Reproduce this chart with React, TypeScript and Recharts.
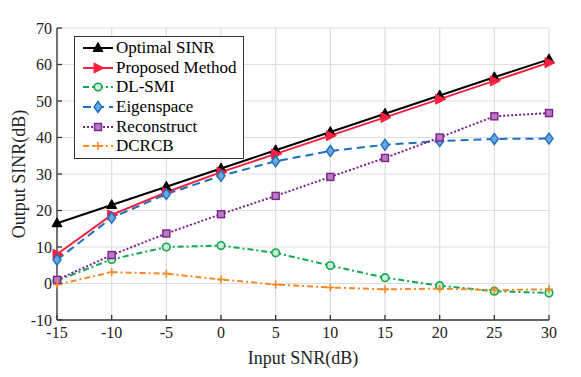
import { LineChart, Line, XAxis, YAxis, CartesianGrid } from 'recharts';

const snr = [-15, -10, -5, 0, 5, 10, 15, 20, 25, 30];
const optimal = [16.5, 21.5, 26.5, 31.5, 36.5, 41.5, 46.5, 51.5, 56.5, 61.4];
const proposed = [8, 18.8, 25, 30.5, 35.5, 40.5, 45.5, 50.5, 55.5, 60.5];
const dlsmi = [0.8, 6.6, 10, 10.4, 8.4, 4.9, 1.6, -0.6, -2.1, -2.6];
const eigen = [6.5, 18, 24.5, 29.5, 33.5, 36.3, 38, 39, 39.6, 39.7];
const recon = [1, 7.8, 13.7, 19, 24, 29.2, 34.4, 40, 45.8, 46.7];
const dcrcb = [-0.3, 3.1, 2.7, 1.1, -0.3, -1.1, -1.6, -1.4, -1.8, -1.6];
const xTicks = [-15, -10, -5, 0, 5, 10, 15, 20, 25, 30];
const yTicks = [-10, 0, 10, 20, 30, 40, 50, 60, 70];

const data = snr.map((x, i) => ({
  x,
  optimal: optimal[i],
  proposed: proposed[i],
  dlsmi: dlsmi[i],
  eigen: eigen[i],
  recon: recon[i],
  dcrcb: dcrcb[i],
}));

const FONT = '"Liberation Serif", "Times New Roman", serif';

type Mk = 'tri' | 'right' | 'circle' | 'diamond' | 'square' | 'plus';

function marker(kind: Mk, color: string, cx: number, cy: number, key?: any) {
  switch (kind) {
    case 'tri':
      return <polygon key={key} points={`${cx},${cy - 5.5} ${cx - 5},${cy + 3.5} ${cx + 5},${cy + 3.5}`} fill={color} stroke={color} />;
    case 'right':
      return <polygon key={key} points={`${cx + 6},${cy} ${cx - 4},${cy - 5} ${cx - 4},${cy + 5}`} fill={color} stroke={color} />;
    case 'circle':
      return <circle key={key} cx={cx} cy={cy} r={3.8} fill="#c8ecd6" stroke={color} strokeWidth={1.6} />;
    case 'diamond':
      return <polygon key={key} points={`${cx},${cy - 5.5} ${cx + 4},${cy} ${cx},${cy + 5.5} ${cx - 4},${cy}`} fill="#6aa6dc" stroke={color} strokeWidth={1.4} />;
    case 'square':
      return <rect key={key} x={cx - 3.5} y={cy - 3.5} width={7} height={7} fill="#b57cc0" stroke={color} strokeWidth={1.4} />;
    default:
      return (
        <g key={key} stroke={color} strokeWidth={1.6}>
          <line x1={cx - 4} y1={cy} x2={cx + 4} y2={cy} />
          <line x1={cx} y1={cy - 4} x2={cx} y2={cy + 4} />
        </g>
      );
  }
}

const series = [
  { key: 'optimal', name: 'Optimal SINR', color: '#000000', dash: undefined, mk: 'tri' as Mk },
  { key: 'proposed', name: 'Proposed Method', color: '#f5213f', dash: undefined, mk: 'right' as Mk },
  { key: 'dlsmi', name: 'DL-SMI', color: '#12a84f', dash: '6 3 2 3', mk: 'circle' as Mk },
  { key: 'eigen', name: 'Eigenspace', color: '#1a6fc0', dash: '8 5', mk: 'diamond' as Mk },
  { key: 'recon', name: 'Reconstruct', color: '#7e1e8e', dash: '2 2', mk: 'square' as Mk },
  { key: 'dcrcb', name: 'DCRCB', color: '#f38a25', dash: '6 3 2 3', mk: 'plus' as Mk },
];

function LegendBox() {
  return (
    <div
      style={{
        position: 'absolute',
        left: 74,
        top: 36,
        border: '1.5px solid #333',
        background: '#fff',
        width: 170,
        padding: '1px 0 2px 0',
        fontFamily: FONT,
        fontSize: 17,
        color: '#000',
        boxSizing: 'border-box',
      }}
    >
      {series.map((s) => (
        <div key={s.key} style={{ display: 'flex', alignItems: 'center', height: 19.7 }}>
          <svg width={32} height={14} style={{ marginLeft: 7 }}>
            <line x1={1} y1={7} x2={31} y2={7} stroke={s.color} strokeWidth={2} strokeDasharray={s.dash} />
            {marker(s.mk, s.color, 16, 7)}
          </svg>
          <span style={{ marginLeft: 2 }}>{s.name}</span>
        </div>
      ))}
    </div>
  );
}

const tickStyle = { fontFamily: FONT, fontSize: 16, fill: '#222' };

const YLabel = (props: any) => {
  const vb = props.viewBox || {};
  const cy = (vb.y ?? 28) + (vb.height ?? 292) / 2;
  return (
    <text x={19} y={cy} transform={`rotate(-90 19 ${cy})`} textAnchor="middle" dominantBaseline="central" style={{ fontFamily: FONT, fontSize: 18, fill: '#222' }}>
      Output SINR(dB)
    </text>
  );
};

export default function App() {
  return (
    <div style={{ position: 'absolute', left: 0, top: 0, width: 581, height: 377, background: '#fff' }}>
      <LineChart width={581} height={377} data={data} margin={{ top: 28, right: 32, left: 10, bottom: 27 }}>
        <CartesianGrid stroke="#dedede" strokeWidth={1.2} />
        <XAxis
          dataKey="x"
          type="number"
          domain={[-15, 30]}
          ticks={xTicks}
          interval={0}
          stroke="#333"
          strokeWidth={1.3}
          tickSize={-5}
          tickMargin={12}
          tick={tickStyle}
          height={30}
          label={{ value: 'Input SNR(dB)', position: 'insideBottom', offset: -14, style: { fontFamily: FONT, fontSize: 18, fill: '#222' } }}
        />
        <XAxis xAxisId="top" dataKey="x" type="number" domain={[-15, 30]} ticks={xTicks} interval={0} orientation="top" stroke="#333" strokeWidth={1.3} tickSize={-5} tick={() => <g />} height={0} />
        <YAxis
          type="number"
          domain={[-10, 70]}
          ticks={yTicks}
          interval={0}
          stroke="#333"
          strokeWidth={1.3}
          tickSize={-5}
          tickMargin={10}
          tick={tickStyle}
          width={47}
          label={<YLabel />}
        />
        <YAxis yAxisId="right" type="number" domain={[-10, 70]} ticks={yTicks} interval={0} orientation="right" stroke="#333" strokeWidth={1.3} tickSize={-5} tick={() => <g />} width={0} />
        {series.map((s) => (
          <Line
            key={s.key}
            dataKey={s.key}
            name={s.name}
            stroke={s.color}
            strokeWidth={2}
            strokeDasharray={s.dash}
            isAnimationActive={false}
            dot={(p: any) => marker(s.mk, s.color, p.cx, p.cy, p.index)}
            activeDot={false}
          />
        ))}
      </LineChart>
      <LegendBox />
    </div>
  );
}
